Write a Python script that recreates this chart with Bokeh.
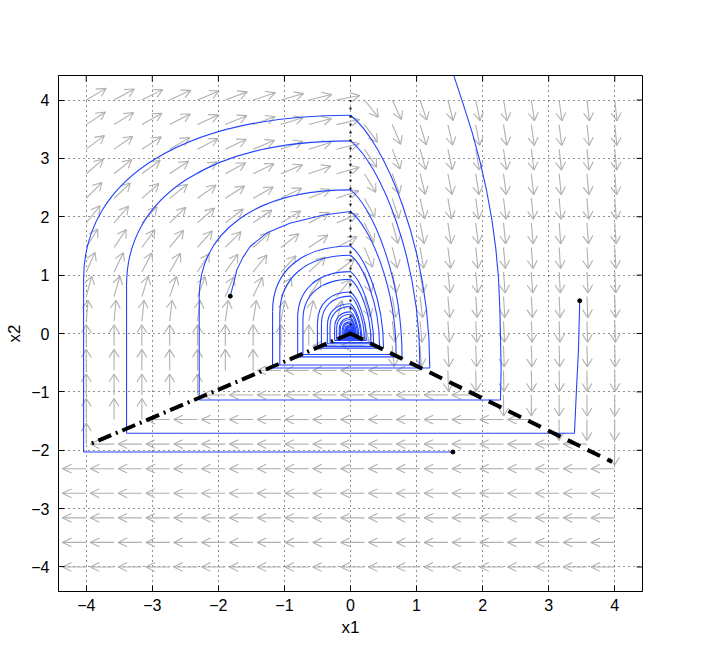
import numpy as np
from bokeh.plotting import figure
from bokeh.models import FixedTicker
from bokeh.embed import file_html
from bokeh.resources import INLINE

# ---------------- data ----------------
TICKS = [-4, -3, -2, -1, 0, 1, 2, 3, 4]
TICK_LABELS = ["\u22124", "\u22123", "\u22122", "\u22121", "0", "1", "2", "3", "4"]
X_LIMITS = [-4.42, 4.42]
Y_LIMITS = [-4.42, 4.42]

# quiver grid (20 x 20)
QUIVER_GRID = [-4.0, -3.579, -3.158, -2.737, -2.316, -1.895, -1.474, -1.053, -0.632, -0.211,
               0.211, 0.632, 1.053, 1.474, 1.895, 2.316, 2.737, 3.158, 3.579, 4.0]

# piecewise vector field (switching lines y = 0.5 x for x<0, y = -0.5 x for x>0)
SWITCH_SLOPE_LEFT = 0.5
SWITCH_SLOPE_RIGHT = -0.5
LEFT_FIELD = [1.68, 0.47]          # rotation centre x, stiffness
RIGHT_FIELD = [0.10, 0.08, 0.38]   # dx = a + b*y, dy = -(x + c)

# drawn switching lines
LEFT_LINE_X = [0.0, -3.95]
LEFT_LINE_Y = [0.0, -1.90]
RIGHT_LINE_X = [0.0, 3.96]
RIGHT_LINE_Y = [0.0, -2.20]
AXIS_LINE_X = [0.0, 0.0]
AXIS_LINE_Y = [0.0, 4.0]

# start points of trajectories
START_X = [1.55, 3.47, -1.82]
START_Y = [-2.03, 0.56, 0.64]

# trajectory A (starts at (1.55,-2.03))
A_ENTRY_X = [1.55]
A_ENTRY_Y = [-2.03]
A_TOPS = [3.74, 1.50, 0.71, 0.37, 0.20, 0.11, 0.06, 0.035]
A_BOTTOMS = [-0.59, -0.25, -0.12, -0.063, -0.035, -0.019, -0.011, -0.006]
A_RIGHTS = [1.20, 0.50, 0.24, 0.126, 0.07, 0.038, 0.022, 0.012]
A_LEFTS = [-4.04, -1.18, -0.50, -0.24, -0.126, -0.07, -0.038, -0.022]

# trajectory B (starts at (3.47,0.56))
B_ENTRY_X = [3.47, 3.45, 3.42, 3.39]
B_ENTRY_Y = [0.56, -0.30, -0.97, -1.71]
B_TOPS = [3.30, 1.34, 0.64, 0.33, 0.18, 0.10, 0.055, 0.03]
B_BOTTOMS = [-0.54, -0.22, -0.105, -0.055, -0.03, -0.017, -0.009, -0.005]
B_RIGHTS = [1.05, 0.44, 0.21, 0.11, 0.06, 0.033, 0.018, 0.01]
B_LEFTS = [-3.39, -1.07, -0.44, -0.21, -0.11, -0.06, -0.034, -0.018]

# trajectory C (enters from above the frame)
C_ENTRY_X = [1.45, 1.56, 1.70, 1.84, 1.96, 2.06, 2.14, 2.20, 2.24, 2.26, 2.27, 2.28, 2.27]
C_ENTRY_Y = [4.80, 4.43, 3.95, 3.45, 2.95, 2.45, 1.95, 1.45, 0.95, 0.45, -0.05, -0.60, -1.14]
C_TOPS = [2.46, 1.06, 0.51, 0.27, 0.15, 0.08, 0.045, 0.025]
C_BOTTOMS = [-0.40, -0.175, -0.085, -0.045, -0.025, -0.014, -0.008, -0.004]
C_RIGHTS = [0.78, 0.35, 0.17, 0.09, 0.05, 0.028, 0.016, 0.008]
C_LEFTS = [-2.29, -0.80, -0.35, -0.17, -0.09, -0.05, -0.028, -0.016]

# trajectory D (starts at (-1.82,0.64), first arc read directly)
D_ENTRY_X = [-1.82, -1.76, -1.72, -1.63, -1.52, -1.27, -0.92, -0.41, 0.0]
D_ENTRY_Y = [0.64, 0.90, 1.09, 1.30, 1.49, 1.72, 1.89, 2.03, 2.09]
D_TOPS = [2.09, 0.93, 0.46, 0.24, 0.13, 0.07, 0.04, 0.022]
D_BOTTOMS = [-0.36, -0.155, -0.077, -0.04, -0.022, -0.012, -0.007, -0.004]
D_RIGHTS = [0.69, 0.31, 0.155, 0.08, 0.044, 0.024, 0.014, 0.008]
D_LEFTS = [None, -0.72, -0.31, -0.155, -0.08, -0.044, -0.024, -0.014]

# ---------------- styling constants ----------------
BLUE = "#2244ff"
ARROW_COLOR = "#b0b0b0"
ARROW_LEN = 0.36
HEAD_A, HEAD_B = 0.38, 0.55
VERT_FRAC = 0.25   # where the left arc leaves the vertical
KAPPA = 0.62       # bezier roundness of the left arc
FONT = "Liberation Sans"

p = figure(width=690, height=642, x_range=tuple(X_LIMITS), y_range=tuple(Y_LIMITS),
           output_backend="svg", toolbar_location=None,
           min_border_left=58, min_border_right=48, min_border_top=75, min_border_bottom=51,
           x_axis_label="x1", y_axis_label="x2")
p.outline_line_color = "black"
p.outline_line_width = 1
p.background_fill_color = "white"
p.border_fill_color = "white"

# axes
for ax in (p.xaxis[0], p.yaxis[0]):
    ax.ticker = FixedTicker(ticks=TICKS, minor_ticks=[])
    ax.major_label_overrides = {t: l for t, l in zip(TICKS, TICK_LABELS)}
    ax.major_tick_in = 6
    ax.major_tick_out = 0
    ax.minor_tick_line_color = None
    ax.axis_line_color = "black"
    ax.major_tick_line_color = "black"
    ax.major_label_text_font = FONT
    ax.major_label_text_font_size = "16px"
    ax.major_label_text_color = "black"
    ax.axis_label_text_font = FONT
    ax.axis_label_text_font_size = "17px"
    ax.axis_label_text_font_style = "normal"
    ax.axis_label_text_color = "black"
p.xaxis[0].major_label_standoff = 7
p.xaxis[0].axis_label_standoff = 4
p.yaxis[0].major_label_standoff = 9
p.yaxis[0].axis_label_standoff = 4

# grid
p.xgrid.ticker = FixedTicker(ticks=TICKS, minor_ticks=[])
p.ygrid.ticker = FixedTicker(ticks=TICKS, minor_ticks=[])
for g in (p.xgrid[0], p.ygrid[0]):
    g.grid_line_color = "#222222"
    g.grid_line_dash = "1 4"
    g.grid_line_width = 1

# ---------------- quiver ----------------
qx, qy = np.meshgrid(np.array(QUIVER_GRID), np.array(QUIVER_GRID))
qx = qx.ravel(); qy = qy.ravel()
u = np.zeros_like(qx); v = np.zeros_like(qy)
left = (qx < 0) & (qy > SWITCH_SLOPE_LEFT * qx)
right = (qx > 0) & (qy > SWITCH_SLOPE_RIGHT * qx)
bottom = ~(left | right)
u[left] = np.maximum(qy[left], 0.0)
v[left] = LEFT_FIELD[1] * (LEFT_FIELD[0] - qx[left])
u[right] = RIGHT_FIELD[0] + RIGHT_FIELD[1] * qy[right]
v[right] = -(qx[right] + RIGHT_FIELD[2])
u[bottom] = -1.0
v[bottom] = 0.0
nrm = np.hypot(u, v)
U = ARROW_LEN * u / nrm
V = ARROW_LEN * v / nrm
tx = qx + U; ty = qy + V
h1x = tx - HEAD_A * (U + HEAD_B * V); h1y = ty - HEAD_A * (V - HEAD_B * U)
h2x = tx - HEAD_A * (U - HEAD_B * V); h2y = ty - HEAD_A * (V + HEAD_B * U)
p.segment(x0=np.concatenate([qx, tx, tx]), y0=np.concatenate([qy, ty, ty]),
          x1=np.concatenate([tx, h1x, h2x]), y1=np.concatenate([ty, h1y, h2y]),
          line_color=ARROW_COLOR, line_width=1.1)

# ---------------- trajectories ----------------
seg = {"x0": [], "y0": [], "x1": [], "y1": []}
bez = {k: [] for k in ("x0", "y0", "x1", "y1", "cx0", "cy0", "cx1", "cy1")}
polys_x, polys_y = [], []


def add_seg(x0, y0, x1, y1):
    seg["x0"].append(x0); seg["y0"].append(y0); seg["x1"].append(x1); seg["y1"].append(y1)


def add_bez(x0, y0, cx0, cy0, cx1, cy1, x1, y1):
    for k, val in zip(("x0", "y0", "cx0", "cy0", "cx1", "cy1", "x1", "y1"),
                      (x0, y0, cx0, cy0, cx1, cy1, x1, y1)):
        bez[k].append(val)


def add_traj(entry_x, entry_y, tops, bottoms, rights, lefts):
    polys_x.append(list(entry_x)); polys_y.append(list(entry_y))
    prev_bottom = entry_y[-1]
    if lefts[0] is not None:
        add_seg(entry_x[-1], prev_bottom, lefts[0], prev_bottom)
    for k, h in enumerate(tops):
        xl = lefts[k]
        if xl is not None:
            yb = prev_bottom
            yv = VERT_FRAC * h
            add_seg(xl, yb, xl, yv)
            add_bez(xl, yv, xl, yv + KAPPA * (h - yv), KAPPA * xl, h, 0.0, h)
        xr, yb2 = rights[k], bottoms[k]
        add_bez(0.0, h, 0.42 * xr, yb2 + 0.9 * (h - yb2), xr, yb2 + 0.48 * (h - yb2), xr, yb2)
        if k + 1 < len(tops):
            add_seg(xr, yb2, lefts[k + 1], yb2)
        prev_bottom = yb2


add_traj(A_ENTRY_X, A_ENTRY_Y, A_TOPS, A_BOTTOMS, A_RIGHTS, A_LEFTS)
add_traj(B_ENTRY_X, B_ENTRY_Y, B_TOPS, B_BOTTOMS, B_RIGHTS, B_LEFTS)
add_traj(C_ENTRY_X, C_ENTRY_Y, C_TOPS, C_BOTTOMS, C_RIGHTS, C_LEFTS)
add_traj(D_ENTRY_X, D_ENTRY_Y, D_TOPS, D_BOTTOMS, D_RIGHTS, D_LEFTS)

p.multi_line(xs=polys_x, ys=polys_y, line_color=BLUE, line_width=1.1)
p.segment(x0=seg["x0"], y0=seg["y0"], x1=seg["x1"], y1=seg["y1"], line_color=BLUE, line_width=1.1)
p.bezier(x0=bez["x0"], y0=bez["y0"], x1=bez["x1"], y1=bez["y1"],
         cx0=bez["cx0"], cy0=bez["cy0"], cx1=bez["cx1"], cy1=bez["cy1"],
         line_color=BLUE, line_width=1.1)

# switching lines
p.line(AXIS_LINE_X, AXIS_LINE_Y, line_color="black", line_width=2, line_dash="2 6")
p.line(LEFT_LINE_X, LEFT_LINE_Y, line_color="black", line_width=4, line_dash="14 5 2 5")
p.line(RIGHT_LINE_X, RIGHT_LINE_Y, line_color="black", line_width=4, line_dash="14 8")

# start markers
p.scatter(START_X, START_Y, size=4, color="black")

# inward tick marks on the top and right edges of the box (half of each dash is clipped)
p.scatter(x=TICKS, y=[Y_LIMITS[1]] * len(TICKS), marker="dash", size=12, angle=np.pi / 2,
          line_color="black", line_width=1)
p.scatter(x=[X_LIMITS[1]] * len(TICKS), y=TICKS, marker="dash", size=12,
          line_color="black", line_width=1)

open("out.html", "w").write(file_html(p, INLINE))
